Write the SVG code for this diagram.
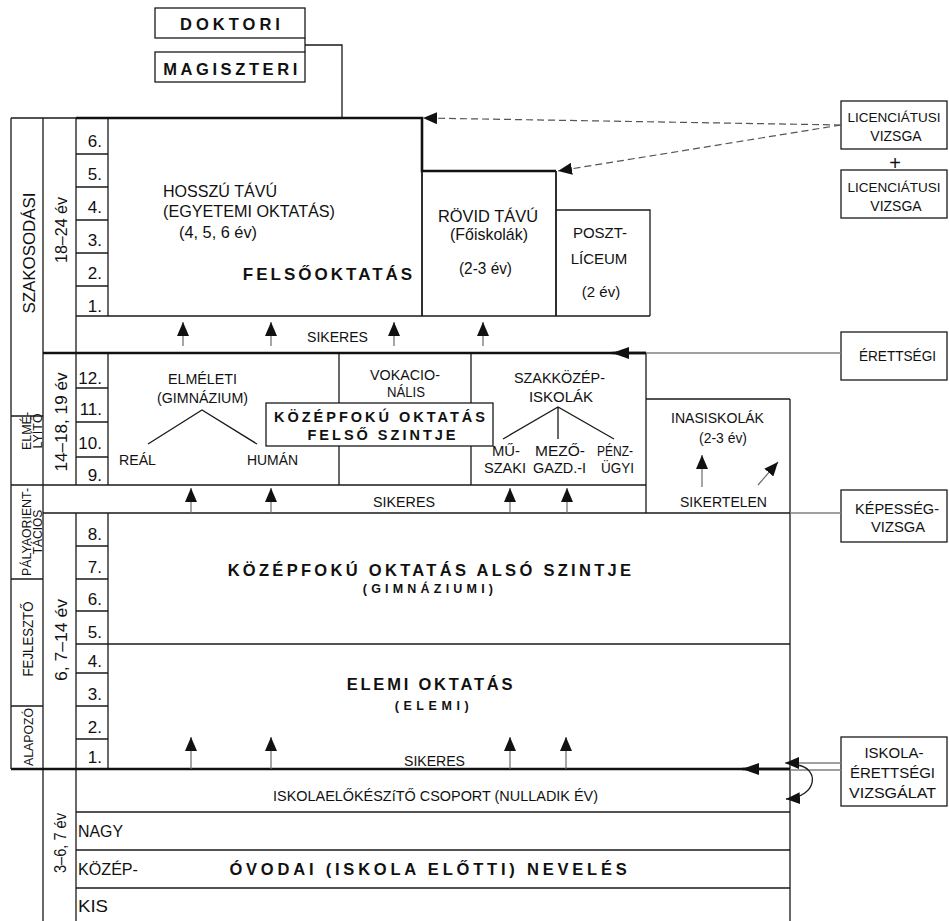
<svg xmlns="http://www.w3.org/2000/svg" width="949" height="921" viewBox="0 0 949 921">
<defs>
<marker id="ah" viewBox="0 0 14 12" refX="14" refY="6" markerWidth="14" markerHeight="12" markerUnits="userSpaceOnUse" orient="auto"><path d="M0,0 L14,6 L0,12 z" fill="#111"/></marker>
<marker id="ahl" viewBox="0 0 17 12" refX="17" refY="6" markerWidth="17" markerHeight="12" markerUnits="userSpaceOnUse" orient="auto"><path d="M0,0 L17,6 L0,12 z" fill="#111"/></marker>
</defs>
<style>
text{font-family:"Liberation Sans",Arial,sans-serif;fill:#111}
.b{font-weight:bold}
.m{text-anchor:middle}
.e{text-anchor:end}
.ln{stroke:#1a1a1a;stroke-width:1.3;fill:none}
.md{stroke:#1a1a1a;stroke-width:1.8;fill:none}
.tk{stroke:#111;stroke-width:2.6;fill:none}
.bx{fill:#fff;stroke:#1a1a1a;stroke-width:1.3}
.gr{stroke:#808080;stroke-width:1.3;fill:none}
.sh{stroke:#6a6a6a;stroke-width:1.2;fill:none}
.ds{stroke:#555;stroke-width:1.2;stroke-dasharray:7 4;fill:none}
.n{font-size:17px}
.s14{font-size:14px}
.s15{font-size:15px}
.s16{font-size:16px}
.s17{font-size:17px}
</style>
<rect width="949" height="921" fill="#fff"/>

<g id="frame">
<path class="ln" d="M11 118 H76 M11 118 V769 M43 118 V921 M76 118 V485 M76 513 V921 M108 118 V316 M108 353 V485 M108 513 V769
M76 154 H108 M76 187 H108 M76 220 H108 M76 253 H108 M76 286 H108
M76 316 H650
M76 388 H108 M76 422 H108 M76 457 H108
M339 353 V485 M471 353 V485 M646 353 V513
M11 416 H43 M11 485 H646 M43 513 H790 M11 579 H43 M11 706 H43
M76 546 H108 M76 579 H108 M76 611 H108 M76 673 H108 M76 706 H108 M76 739 H108
M76 644 H790 M646 399 H790 M790 399 V921
M76 812 H790 M76 850 H790 M76 888 H790"/>
<path class="tk" d="M76 118 H422 V171 H556 M43 353 H646 M11 769 H790"/>
<path class="md" d="M422 171 V316 M556 171 V316"/>
</g>

<g id="side-labels">
<text transform="translate(35,253) rotate(-90)" text-anchor="middle" font-size="16.5" textLength="121" lengthAdjust="spacingAndGlyphs">SZAKOSODÁSI</text>
<text transform="translate(30.5,431) rotate(-90)" text-anchor="middle" font-size="12.5">ELMÉ-</text>
<text transform="translate(41.5,431) rotate(-90)" text-anchor="middle" font-size="12.5">LYÍTŐ</text>
<text transform="translate(30.5,532) rotate(-90)" text-anchor="middle" font-size="12" textLength="88" lengthAdjust="spacingAndGlyphs">PÁLYAORIENT-</text>
<text transform="translate(41.5,532) rotate(-90)" text-anchor="middle" font-size="12">TÁCIÓS</text>
<text transform="translate(33,639) rotate(-90)" text-anchor="middle" font-size="14" textLength="75" lengthAdjust="spacingAndGlyphs">FEJLESZTŐ</text>
<text transform="translate(33,737) rotate(-90)" text-anchor="middle" font-size="13.5" textLength="58" lengthAdjust="spacingAndGlyphs">ALAPOZÓ</text>
<text class="s17" transform="translate(67,230) rotate(-90)" text-anchor="middle" textLength="66" lengthAdjust="spacingAndGlyphs">18–24 év</text>
<text class="s17" transform="translate(67,422) rotate(-90)" text-anchor="middle" textLength="99" lengthAdjust="spacingAndGlyphs">14–18, 19 év</text>
<text class="s17" transform="translate(67,640) rotate(-90)" text-anchor="middle" textLength="82" lengthAdjust="spacingAndGlyphs">6, 7–14 év</text>
<text class="s17" transform="translate(66,843) rotate(-90)" text-anchor="middle" textLength="60" lengthAdjust="spacingAndGlyphs">3–6, 7 év</text>
</g>

<g id="years" class="n">
<text class="e" x="102" y="147">6.</text>
<text class="e" x="102" y="180">5.</text>
<text class="e" x="102" y="213">4.</text>
<text class="e" x="102" y="246">3.</text>
<text class="e" x="102" y="279">2.</text>
<text class="e" x="102" y="312">1.</text>
<text class="e" x="102" y="384">12.</text>
<text class="e" x="102" y="415">11.</text>
<text class="e" x="102" y="449">10.</text>
<text class="e" x="102" y="481">9.</text>
<text class="e" x="102" y="540">8.</text>
<text class="e" x="102" y="573">7.</text>
<text class="e" x="102" y="605">6.</text>
<text class="e" x="102" y="638">5.</text>
<text class="e" x="102" y="667">4.</text>
<text class="e" x="102" y="700">3.</text>
<text class="e" x="102" y="733">2.</text>
<text class="e" x="102" y="763">1.</text>
</g>

<g id="doktori">
<rect class="bx" x="155" y="8" width="150" height="30"/>
<text class="b m" x="232" y="30" font-size="16.5" letter-spacing="4">DOKTORI</text>
</g>
<g id="magiszteri">
<rect class="bx" x="155" y="52" width="150" height="30"/>
<text class="b m" x="232" y="75" font-size="16.5" letter-spacing="3.6">MAGISZTERI</text>
</g>

<g id="hosszu-tavu">
<text class="s17" x="163" y="197" textLength="114" lengthAdjust="spacingAndGlyphs">HOSSZÚ TÁVÚ</text>
<text class="s17" x="163" y="217" textLength="172" lengthAdjust="spacingAndGlyphs">(EGYETEMI OKTATÁS)</text>
<text class="s17" x="179" y="238" textLength="78" lengthAdjust="spacingAndGlyphs">(4, 5, 6 év)</text>
<text class="b m" x="329" y="280" font-size="17" letter-spacing="3">FELSŐOKTATÁS</text>
</g>

<g id="rovid-tavu">
<text class="s17" x="438" y="222" textLength="100" lengthAdjust="spacingAndGlyphs">RÖVID TÁVÚ</text>
<text class="s17" x="450" y="240" textLength="78" lengthAdjust="spacingAndGlyphs">(Főiskolák)</text>
<text class="s17" x="459" y="274" textLength="53" lengthAdjust="spacingAndGlyphs">(2-3 év)</text>
</g>

<g id="poszt-liceum">
<path class="ln" d="M556 210 H650 V316"/>
<text class="s15 m" x="600" y="238">POSZT-</text>
<text class="s15 m" x="599" y="264">LÍCEUM</text>
<text class="s15 m" x="601" y="297">(2 év)</text>
</g>

<g id="licenciatusi-1">
<rect class="bx" x="841" y="101" width="106" height="48"/>
<text class="m" x="894" y="122" font-size="13.5">LICENCIÁTUSI</text>
<text class="m" x="896" y="141" font-size="14">VIZSGA</text>
</g>
<g id="plus"><text class="m" x="895" y="170" font-size="20">+</text></g>
<g id="licenciatusi-2">
<rect class="bx" x="841" y="170" width="106" height="48"/>
<text class="m" x="894" y="192" font-size="13.5">LICENCIÁTUSI</text>
<text class="m" x="896" y="211" font-size="14">VIZSGA</text>
</g>

<g id="sikeres-1"><text class="s15" x="307" y="342" textLength="61" lengthAdjust="spacingAndGlyphs">SIKERES</text></g>

<g id="elmeleti">
<text class="s15" x="168" y="384" textLength="69" lengthAdjust="spacingAndGlyphs">ELMÉLETI</text>
<text class="s15" x="157" y="403" textLength="91" lengthAdjust="spacingAndGlyphs">(GIMNÁZIUM)</text>
<path class="ln" d="M148 444 L202 410 L257 444"/>
<text class="s15" x="119" y="465" textLength="37" lengthAdjust="spacingAndGlyphs">REÁL</text>
<text class="s15" x="247" y="465" textLength="51" lengthAdjust="spacingAndGlyphs">HUMÁN</text>
</g>

<g id="vokacionalis">
<text class="s15" x="370" y="380" textLength="70" lengthAdjust="spacingAndGlyphs">VOKACIO-</text>
<text class="s15" x="387" y="397" textLength="38" lengthAdjust="spacingAndGlyphs">NÁLIS</text>
</g>

<g id="szakkozep">
<text class="s15" x="514" y="383" textLength="91" lengthAdjust="spacingAndGlyphs">SZAKKÖZÉP-</text>
<text class="s15 m" x="561" y="402">ISKOLÁK</text>
<path class="ln" d="M503 439 L558 407 L614 439 M558 407 V439"/>
<text class="s14" x="492" y="456" textLength="28" lengthAdjust="spacingAndGlyphs">MŰ-</text>
<text class="s14" x="484" y="473" textLength="42" lengthAdjust="spacingAndGlyphs">SZAKI</text>
<text class="s14" x="535" y="456" textLength="50" lengthAdjust="spacingAndGlyphs">MEZŐ-</text>
<text class="s14" x="533" y="473" textLength="53" lengthAdjust="spacingAndGlyphs">GAZD.-I</text>
<text class="s14" x="597" y="456" textLength="36" lengthAdjust="spacingAndGlyphs">PÉNZ-</text>
<text class="s14" x="601" y="473" textLength="33" lengthAdjust="spacingAndGlyphs">ÜGYI</text>
</g>

<g id="kozepfoku-felso">
<rect class="bx" x="266" y="403" width="227" height="43"/>
<text class="b m" x="381" y="422" font-size="14.5" letter-spacing="3">KÖZÉPFOKÚ OKTATÁS</text>
<text class="b m" x="383" y="440" font-size="14.5" letter-spacing="3">FELSŐ SZINTJE</text>
</g>

<g id="inasiskolak">
<text class="s15" x="671" y="423" textLength="93" lengthAdjust="spacingAndGlyphs">INASISKOLÁK</text>
<text class="s15" x="699" y="443" textLength="48" lengthAdjust="spacingAndGlyphs">(2-3 év)</text>
<text class="s15" x="680" y="507" textLength="87" lengthAdjust="spacingAndGlyphs">SIKERTELEN</text>
</g>

<g id="sikeres-2"><text class="s15" x="373" y="507" textLength="62" lengthAdjust="spacingAndGlyphs">SIKERES</text></g>

<g id="erettsegi">
<rect class="bx" x="841" y="332" width="106" height="48"/>
<text class="s15" x="859" y="361" textLength="77" lengthAdjust="spacingAndGlyphs">ÉRETTSÉGI</text>
</g>

<g id="kepessegvizsga">
<rect class="bx" x="841" y="490" width="106" height="52"/>
<text class="s15" x="855" y="514" textLength="84" lengthAdjust="spacingAndGlyphs">KÉPESSÉG-</text>
<text class="s15" x="871" y="532" textLength="54" lengthAdjust="spacingAndGlyphs">VIZSGA</text>
</g>

<g id="kozepfoku-also">
<text class="b m" x="431" y="576" font-size="16.5" letter-spacing="3.3">KÖZÉPFOKÚ OKTATÁS ALSÓ SZINTJE</text>
<text class="b m" x="430" y="593" font-size="12.5" letter-spacing="4.2">(GIMNÁZIUMI)</text>
</g>

<g id="elemi">
<text class="b m" x="431" y="690" font-size="16.5" letter-spacing="2.8">ELEMI OKTATÁS</text>
<text class="b m" x="434" y="710" font-size="12.5" letter-spacing="4.6">(ELEMI)</text>
<text class="s15" x="404" y="766" textLength="61" lengthAdjust="spacingAndGlyphs">SIKERES</text>
</g>

<g id="iskola-erettsegi">
<rect class="bx" x="841" y="737" width="106" height="69"/>
<text class="s15 m" x="894" y="758">ISKOLA-</text>
<text class="s15" x="850" y="778" textLength="85" lengthAdjust="spacingAndGlyphs">ÉRETTSÉGI</text>
<text class="s15" x="849" y="798" textLength="87" lengthAdjust="spacingAndGlyphs">VIZSGÁLAT</text>
</g>

<g id="ovodai">
<text class="s15" x="273" y="801" textLength="325" lengthAdjust="spacingAndGlyphs">ISKOLAELŐKÉSZíTŐ CSOPORT (NULLADIK ÉV)</text>
<text class="s17" x="78" y="837" textLength="45" lengthAdjust="spacingAndGlyphs">NAGY</text>
<text class="s17" x="78" y="875" textLength="60" lengthAdjust="spacingAndGlyphs">KÖZÉP-</text>
<text class="s17" x="78" y="912" textLength="30" lengthAdjust="spacingAndGlyphs">KIS</text>
<text class="b m" x="430" y="875" font-size="16.5" letter-spacing="3.8">ÓVODAI (ISKOLA ELŐTTI) NEVELÉS</text>
</g>

<g id="connectors">
<path class="ln" d="M305 38 V52 M305 45 H342 V118"/>
<path class="ds" d="M841 125 L423 118" marker-end="url(#ah)"/>
<path class="ds" d="M841 125 L558 171" marker-end="url(#ah)"/>
<path class="gr" d="M841 353 H646"/>
<path class="tk" d="M646 353 H612" marker-end="url(#ahl)"/>
<path class="gr" d="M790 513 H841"/>
<path class="gr" d="M790 770 H841"/>
<path class="gr" d="M841 763 H785" marker-end="url(#ah)"/>
<path class="ln" d="M797 765 C820 768 818 797 786 799" marker-end="url(#ah)"/>
<path class="tk" d="M790 769 H742" marker-end="url(#ahl)"/>
<path class="sh" d="M183 346 V322" marker-end="url(#ah)"/>
<path class="sh" d="M271 346 V322" marker-end="url(#ah)"/>
<path class="sh" d="M394 346 V322" marker-end="url(#ah)"/>
<path class="sh" d="M483 346 V322" marker-end="url(#ah)"/>
<path class="sh" d="M191 513 V488" marker-end="url(#ah)"/>
<path class="sh" d="M271 513 V488" marker-end="url(#ah)"/>
<path class="sh" d="M510 513 V488" marker-end="url(#ah)"/>
<path class="sh" d="M567 513 V488" marker-end="url(#ah)"/>
<path class="sh" d="M191 769 V737" marker-end="url(#ah)"/>
<path class="sh" d="M271 769 V737" marker-end="url(#ah)"/>
<path class="sh" d="M510 769 V737" marker-end="url(#ah)"/>
<path class="sh" d="M566 769 V737" marker-end="url(#ah)"/>
<path class="sh" d="M702 487 V455" marker-end="url(#ah)"/>
<path class="sh" d="M758 485 L778 462" marker-end="url(#ah)"/>
</g>
</svg>
